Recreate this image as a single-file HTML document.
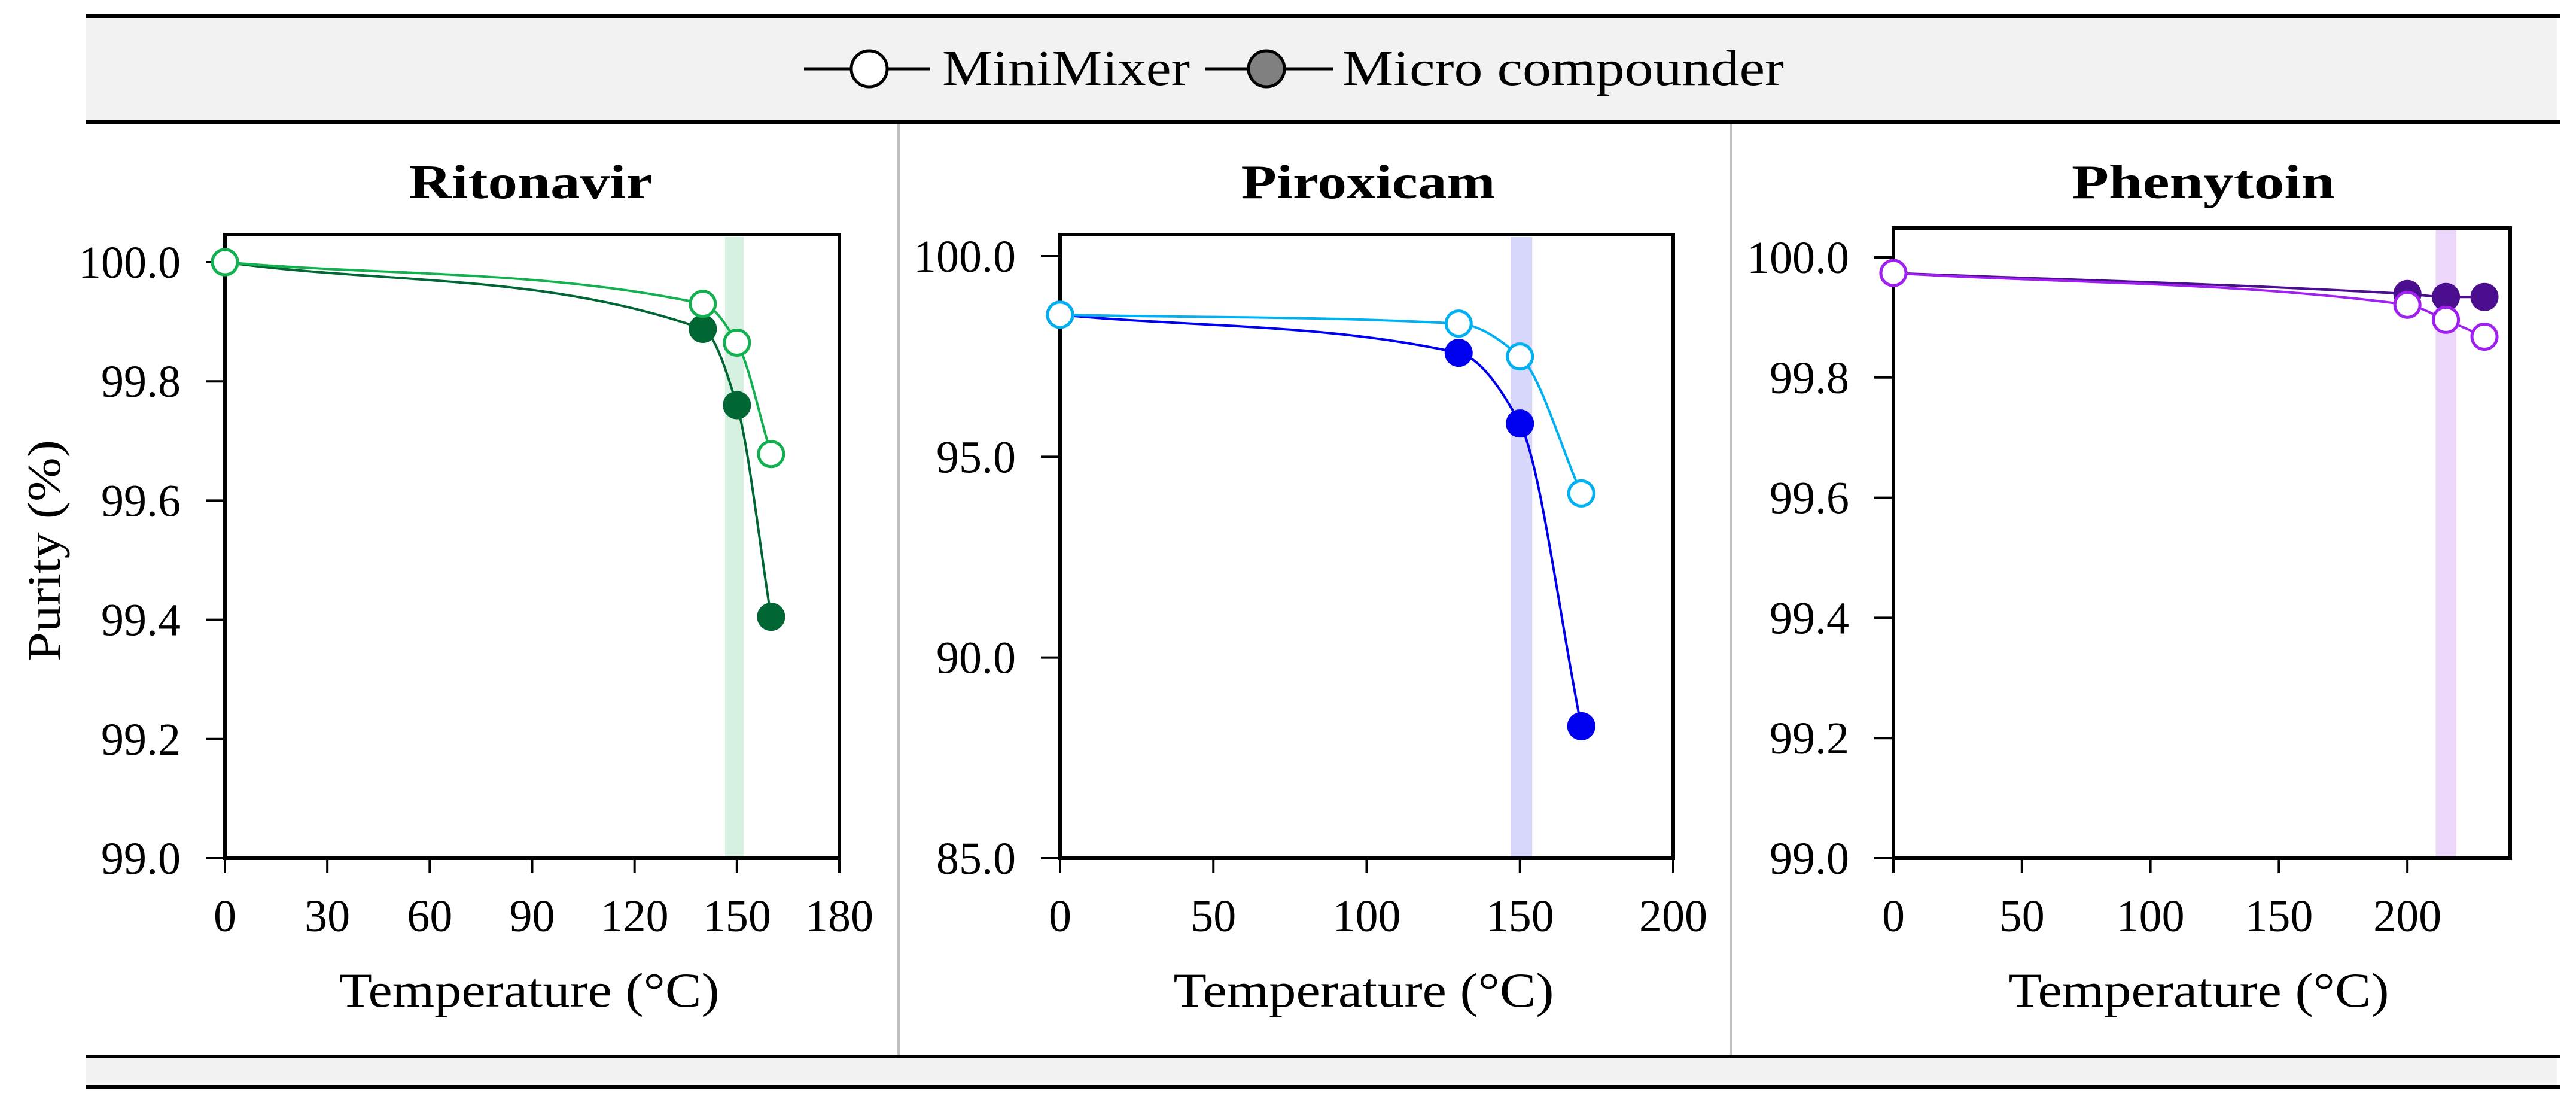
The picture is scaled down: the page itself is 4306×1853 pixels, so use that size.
<!DOCTYPE html>
<html><head><meta charset="utf-8"><style>
html,body{margin:0;padding:0;background:#fff;}
svg{display:block;}
text{font-family:"Liberation Serif",serif;fill:#000;}
</style></head><body>
<svg id="chart" width="4306" height="1853" viewBox="0 0 4306 1853" xmlns="http://www.w3.org/2000/svg">
<g>
<rect x="144" y="27" width="4130" height="178" fill="#f2f2f2"/>
<line x1="144" y1="27" x2="4280" y2="27" stroke="#000" stroke-width="6"/>
<line x1="144" y1="204" x2="4280" y2="204" stroke="#000" stroke-width="6"/>
</g>
<g>
<line x1="1344" y1="115" x2="1555" y2="115" stroke="#000" stroke-width="5"/>
<circle cx="1453" cy="115" r="30" fill="#fff" stroke="#000" stroke-width="5"/>
<text x="1575" y="142" font-size="84" textLength="414" lengthAdjust="spacingAndGlyphs">MiniMixer</text>
</g>
<g>
<line x1="2014" y1="115" x2="2228" y2="115" stroke="#000" stroke-width="5"/>
<circle cx="2117" cy="115" r="30" fill="#808080" stroke="#000" stroke-width="5"/>
<text x="2244" y="142" font-size="84" textLength="738" lengthAdjust="spacingAndGlyphs">Micro compounder</text>
</g>
<g>
<rect x="144" y="1765" width="4130" height="51" fill="#f2f2f2"/>
<line x1="144" y1="1765" x2="4280" y2="1765" stroke="#000" stroke-width="6"/>
<line x1="144" y1="1816" x2="4280" y2="1816" stroke="#000" stroke-width="6"/>
</g>
<line x1="1502" y1="207" x2="1502" y2="1762" stroke="#bfbfbf" stroke-width="4"/>
<line x1="2894" y1="207" x2="2894" y2="1762" stroke="#bfbfbf" stroke-width="4"/>
<text transform="translate(100,920) rotate(-90)" text-anchor="middle" font-size="78" textLength="370" lengthAdjust="spacingAndGlyphs">Purity (%)</text>
</svg>
<script>
// Ritonavir
const ritTemps = [0, 140, 150, 160];
const ritMini = [100.0, 99.93, 99.865, 99.678];
const ritMicro = [100.0, 99.888, 99.76, 99.405];
const ritYTicks = [99.0, 99.2, 99.4, 99.6, 99.8, 100.0];
const ritXTicks = [0, 30, 60, 90, 120, 150, 180];
const ritBand = [146.5, 152];
// Piroxicam
const pirTemps = [0, 130, 150, 170];
const pirMini = [98.54, 98.32, 97.5, 94.09];
const pirMicro = [98.54, 97.59, 95.83, 88.29];
const pirYTicks = [85.0, 90.0, 95.0, 100.0];
const pirXTicks = [0, 50, 100, 150, 200];
const pirBand = [147, 154];
// Phenytoin
const phnTemps = [0, 200, 215, 230];
const phnMini = [99.974, 99.921, 99.896, 99.868];
const phnMicro = [99.974, 99.939, 99.934, 99.934];
const phnYTicks = [99.0, 99.2, 99.4, 99.6, 99.8, 100.0];
const phnXTicks = [0, 50, 100, 150, 200];
const phnBand = [211, 219];

const NS = 'http://www.w3.org/2000/svg';
const svg = document.getElementById('chart');
function mk(tag, attrs, parent) {
  const e = document.createElementNS(NS, tag);
  for (const k in attrs) e.setAttribute(k, attrs[k]);
  parent.appendChild(e);
  return e;
}
// monotone cubic (Fritsch-Carlson) in pixel space
function spline(pts) {
  const n = pts.length;
  const dx = [], dy = [], m = [];
  for (let i = 0; i < n - 1; i++) { dx.push(pts[i+1][0] - pts[i][0]); dy.push(pts[i+1][1] - pts[i][1]); m.push(dy[i] / dx[i]); }
  const t = [m[0]];
  for (let i = 1; i < n - 1; i++) {
    if (m[i-1] * m[i] <= 0) t.push(0);
    else { const w1 = 2*dx[i] + dx[i-1], w2 = dx[i] + 2*dx[i-1]; t.push((w1 + w2) / (w1 / m[i-1] + w2 / m[i])); }
  }
  t.push(m[n-2]);
  let d = 'M' + pts[0][0] + ',' + pts[0][1];
  for (let i = 0; i < n - 1; i++) {
    const h = dx[i] / 3;
    d += ' C' + (pts[i][0] + h) + ',' + (pts[i][1] + t[i]*h) + ' ' + (pts[i+1][0] - h) + ',' + (pts[i+1][1] - t[i+1]*h) + ' ' + pts[i+1][0] + ',' + pts[i+1][1];
  }
  return d;
}
function panel(cfg) {
  const g = mk('g', {}, svg);
  
  
  const L = cfg.left, R = cfg.right, T = cfg.top, B = 1434;
  const xs = v => L + (v - cfg.xmin) / (cfg.xmax - cfg.xmin) * (R - L);
  const ys = v => cfg.y0px + (v - cfg.ymin) / (cfg.ymax - cfg.ymin) * (cfg.y1px - cfg.y0px);
  const band = mk('rect', {x: xs(cfg.band[0]), y: T + 4, width: xs(cfg.band[1]) - xs(cfg.band[0]), height: B - T - 4, fill: cfg.bandColor}, g);
  
  
  const frame = mk('rect', {x: L, y: T, width: R - L, height: B - T, fill: 'none', stroke: '#000', 'stroke-width': 6}, g);
  
  
  cfg.yTicks.forEach(v => {
    const y = ys(v);
    const tk = mk('line', {x1: L - 32, y1: y, x2: L, y2: y, stroke: '#000', 'stroke-width': 4}, g);
    
    
    const t = mk('text', {x: L - 74, y: y + 26, 'text-anchor': 'end', 'font-size': 76}, g);
    
    
    t.textContent = v.toFixed(1);
  });
  cfg.xTicks.forEach(v => {
    const x = xs(v);
    const tk = mk('line', {x1: x, y1: B, x2: x, y2: B + 25, stroke: '#000', 'stroke-width': 4}, g);
    
    
    const t = mk('text', {x: x, y: 1556, 'text-anchor': 'middle', 'font-size': 76}, g);
    
    
    t.textContent = String(v);
  });
  const title = mk('text', {x: cfg.titleX, y: 331, 'text-anchor': 'middle', 'font-size': 80, 'font-weight': 'bold', textLength: cfg.titleW, lengthAdjust: 'spacingAndGlyphs'}, g);
  
  
  title.textContent = cfg.title;
  const xt = mk('text', {x: (L + R) / 2 - 5, y: 1682, 'text-anchor': 'middle', 'font-size': 82, textLength: 636, lengthAdjust: 'spacingAndGlyphs'}, g);
  
  
  xt.textContent = 'Temperature (°C)';
  [[cfg.micro, cfg.microColor, true, 'micro-compounder'], [cfg.mini, cfg.miniColor, false, 'minimixer']].forEach(s => {
    const pts = cfg.temps.map((t, i) => [xs(t), ys(s[0][i])]);
    const path = mk('path', {d: spline(pts), fill: 'none', stroke: s[1], 'stroke-width': 4}, g);
    
    
    pts.forEach(p => {
      const c = mk('circle', {cx: p[0], cy: p[1], r: 21, fill: s[2] ? s[1] : '#fff', stroke: s[1], 'stroke-width': 5}, g);
      
      
    });
  });
}
panel({name: 'ritonavir', title: 'Ritonavir', titleX: 887, titleW: 407, left: 376, right: 1403, top: 392,
  xmin: 0, xmax: 180, ymin: 99.0, ymax: 100.0, y0px: 1434, y1px: 438,
  temps: ritTemps, mini: ritMini, micro: ritMicro, yTicks: ritYTicks, xTicks: ritXTicks, band: ritBand,
  miniColor: '#12b04f', microColor: '#006633', bandColor: '#d6f1e1'});
panel({name: 'piroxicam', title: 'Piroxicam', titleX: 2287, titleW: 425, left: 1772, right: 2797, top: 392,
  xmin: 0, xmax: 200, ymin: 85.0, ymax: 100.0, y0px: 1434, y1px: 428,
  temps: pirTemps, mini: pirMini, micro: pirMicro, yTicks: pirYTicks, xTicks: pirXTicks, band: pirBand,
  miniColor: '#00b0f0', microColor: '#0000f0', bandColor: '#d7d7fb'});
panel({name: 'phenytoin', title: 'Phenytoin', titleX: 3683, titleW: 440, left: 3165, right: 4196, top: 381,
  xmin: 0, xmax: 240, ymin: 99.0, ymax: 100.0, y0px: 1434, y1px: 430,
  temps: phnTemps, mini: phnMini, micro: phnMicro, yTicks: phnYTicks, xTicks: phnXTicks, band: phnBand,
  miniColor: '#a020f0', microColor: '#4a0e8f', bandColor: '#ecd7fb'});
</script>
</body></html>
